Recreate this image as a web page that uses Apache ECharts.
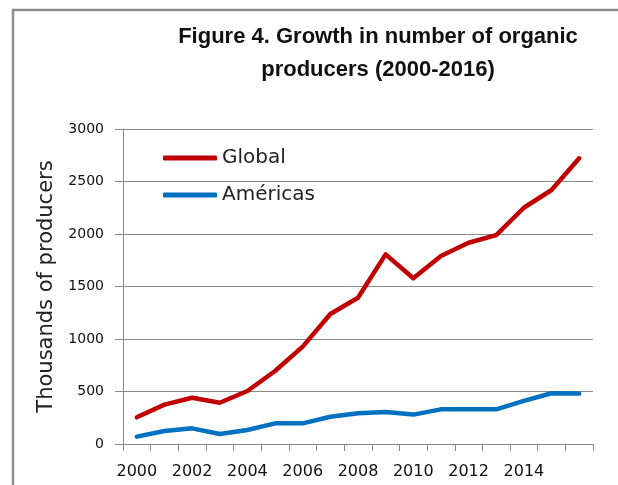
<!DOCTYPE html>
<html>
<head>
<meta charset="utf-8">
<script src="https://cdn.jsdelivr.net/npm/echarts@6/dist/echarts.min.js"></script>
<style>
html,body{margin:0;padding:0;background:#fff;}
#chart{width:618px;height:485px;}
</style>
</head>
<body>
<div id="chart"></div>
<script>
var years = ['2000','2001','2002','2003','2004','2005','2006','2007','2008','2009','2010','2011','2012','2013','2014','2015','2016'];
var globalValues = [254, 375, 441, 393, 505, 695, 927, 1238, 1393, 1806, 1578, 1790, 1917, 1990, 2250, 2419, 2721];
var americasValues = [70, 124, 149, 95, 133, 197, 197, 260, 292, 305, 280, 330, 330, 330, 410, 483, 480];
var yTicks = [0, 500, 1000, 1500, 2000, 2500, 3000];
var titleText = 'Figure 4. Growth in number of organic\nproducers (2000-2016)';
var yName = 'Thousands of producers';

var chart = echarts.init(document.getElementById('chart'), null, {renderer: 'canvas'});
chart.setOption({
  animation: false,
  backgroundColor: '#fff',
  graphic: [{
    type: 'polyline',
    shape: {points: [[13, 490], [13, 10], [620, 10]]},
    style: {stroke: '#8c8c8c', lineWidth: 2.5, fill: null},
    silent: true
  }],
  title: {
    text: titleText,
    left: 373,
    top: 15,
    textAlign: 'center',
    textStyle: {fontFamily: 'Liberation Sans', fontSize: 22, fontWeight: 'bold', color: '#111', lineHeight: 33}
  },
  legend: {
    orient: 'vertical',
    left: 163,
    top: 146,
    padding: 0,
    itemWidth: 54,
    itemHeight: 5,
    itemGap: 13,
    icon: 'roundRect',
    textStyle: {fontFamily: 'DejaVu Sans', fontSize: 20, color: '#222', lineHeight: 24, padding: [0, 0, 0, 0]},
    data: ['Global', 'Américas']
  },
  grid: {left: 123, right: 25, top: 129, bottom: 41, containLabel: false},
  xAxis: {
    type: 'category',
    data: years,
    boundaryGap: true,
    axisLine: {lineStyle: {color: '#888', width: 1}},
    axisTick: {show: true, length: 7, interval: 0, lineStyle: {color: '#888'}},
    axisLabel: {
      interval: function (i) { return i % 2 === 0 && i < 16; },
      margin: 20,
      fontFamily: 'DejaVu Sans',
      fontSize: 16,
      color: '#111'
    }
  },
  yAxis: {
    type: 'value',
    min: yTicks[0],
    max: yTicks[yTicks.length - 1],
    interval: 500,
    name: yName,
    nameLocation: 'middle',
    nameGap: 66,
    nameTextStyle: {fontFamily: 'DejaVu Sans', fontSize: 21, color: '#222'},
    axisLine: {show: true, lineStyle: {color: '#888', width: 1}},
    axisTick: {show: true, length: 8, lineStyle: {color: '#888'}},
    axisLabel: {fontFamily: 'DejaVu Sans', fontSize: 14, color: '#111', margin: 19,
      formatter: function (v) { return String(v); }},
    splitLine: {show: true, lineStyle: {color: '#8a8a8a', width: 1}}
  },
  series: [{
    name: 'Global',
    type: 'line',
    data: globalValues,
    showSymbol: false,
    symbol: 'none',
    lineStyle: {color: '#C00000', width: 4.5, cap: 'round', join: 'round'},
    itemStyle: {color: '#C00000'}
  }, {
    name: 'Américas',
    type: 'line',
    data: americasValues,
    showSymbol: false,
    symbol: 'none',
    lineStyle: {color: '#0070C0', width: 4.5, cap: 'round', join: 'round'},
    itemStyle: {color: '#0070C0'}
  }]
});
</script>
</body>
</html>
